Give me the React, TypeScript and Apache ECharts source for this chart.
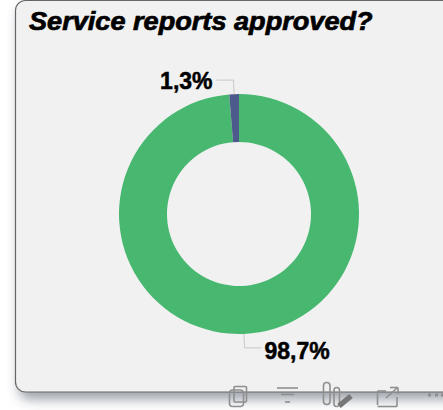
import React, { useEffect, useRef } from "react";
import * as echarts from "echarts";

const titleText = "Service reports approved?";
const categories = ["Yes", "No"];
const values = [98.7, 1.3];
const labels = ["98,7%", "1,3%"];
const colors = ["#48b871", "#4d5a8c"];
const labelShift = [{ dx: -2, dy: 3.5 }, { dx: 1, dy: 1 }];

const iconStroke = "#8f8f8f";
const seg = (x1: number, y1: number, x2: number, y2: number, w = 1.6, c = iconStroke) => ({
  type: "line", z: 5, shape: { x1, y1, x2, y2 }, style: { stroke: c, lineWidth: w, fill: "none" },
});
const box = (x: number, y: number, width: number, height: number, r = 2, fill = "none", w = 1.6) => ({
  type: "rect", z: 5, shape: { x, y, width, height, r }, style: { stroke: iconStroke, lineWidth: w, fill },
});

export default function App() {
  const ref = useRef<HTMLDivElement>(null);
  useEffect(() => {
    document.body.style.background = "#ffffff";
    const chart = echarts.init(ref.current!, null, { renderer: "svg" });
    chart.setOption({
      animation: false,
      backgroundColor: "#ffffff",
      graphic: [
        {
          type: "rect", z: -1, silent: true,
          shape: { x: 15.5, y: 0.5, width: 470, height: 391.5, r: 10 },
          style: {
            fill: "#f1f1f1", stroke: "#666666", lineWidth: 1.2,
            shadowBlur: 12, shadowColor: "rgba(60,70,90,0.5)", shadowOffsetX: 4, shadowOffsetY: 7,
          },
        },
        {
          type: "text", z: 4, x: 29, y: 9, scaleX: 1.085, scaleY: 1,
          style: {
            text: titleText, fill: "#000",
            font: "italic bold 25px 'Liberation Sans'",
            stroke: "#000", lineWidth: 0.7,
          },
        },
        // copy
        box(229.5, 390, 14, 16.5, 3),
        box(234, 386.5, 12.5, 15.5, 1),
        // filter
        seg(277, 388, 298, 388), seg(281, 394.5, 294, 394.5), seg(285, 402, 290, 402),
        // columns + pencil
        box(323.5, 382.5, 6.5, 22, 3.2), box(334, 387.5, 5.5, 19, 2.7),
        seg(339, 406, 351, 396, 5.5, "#777777"),
        // expand
        seg(377.5, 391, 377.5, 405), seg(377.5, 406.5, 397, 406.5), seg(397, 397, 397, 406.5), seg(377.5, 391, 386, 391),
        seg(386, 398, 397, 388), seg(390, 387.5, 398, 387.5), seg(398, 387.5, 398, 394),
        // more
        seg(428, 395, 431, 395, 3), seg(435, 395, 438, 395, 3), seg(441, 395, 443, 395, 3),
      ],
      series: [
        {
          type: "pie",
          center: [239, 214],
          radius: [72, 120],
          startAngle: 90,
          avoidLabelOverlap: false,
          itemStyle: { borderWidth: 0 },
          emphasis: { disabled: true },
          label: {
            show: true,
            position: "outside",
            distanceToLabelLine: 5,
            fontFamily: "Liberation Sans",
            fontSize: 23,
            fontWeight: "bold",
            color: "#000",
            textBorderColor: "#000",
            textBorderWidth: 0.5,
            formatter: (p: any) => labels[p.dataIndex],
          },
          labelLine: {
            show: true, length: 14, length2: 17,
            lineStyle: { color: "#c8c8c8", width: 1 },
          },
          labelLayout: (p: any) => ({
            dx: labelShift[p.dataIndex].dx,
            dy: labelShift[p.dataIndex].dy,
            labelLinePoints: p.labelLinePoints,
          }),
          data: categories.map((name, i) => ({
            name,
            value: values[i],
            itemStyle: { color: colors[i] },
          })),
        },
      ],
    });
    return () => chart.dispose();
  }, []);
  return <div ref={ref} style={{ position: "absolute", left: 0, top: 0, width: 443, height: 410 }} />;
}
